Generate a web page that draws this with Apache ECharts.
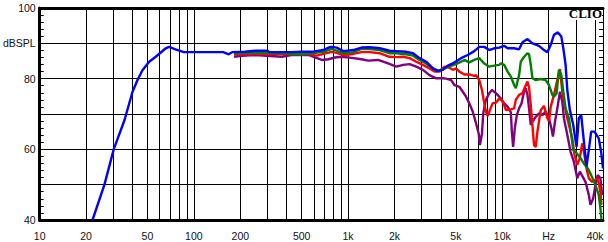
<!DOCTYPE html>
<html>
<head>
<meta charset="utf-8">
<script src="https://cdn.jsdelivr.net/npm/echarts@6/dist/echarts.min.js"></script>
<style>html,body{margin:0;padding:0;background:#fff;}#c{width:608px;height:242px;}</style>
</head>
<body>
<div id="c"></div>
<script>
// ---- data (frequency in Hz, level in dB SPL) ----
const blueFreq = [22,26.3,30.2,35.5,40,43.1,46.4,51.3,56.6,65.7,69,76,86,100,113,155,168,177,215,250,300,310,430,500,580,690,760,783,843,931,1080,1222,1383,1605,1853,2057,2386,2636,2907,3211,3548,3822,4116,4435,4777,5405,5970,6584,7092,7639,8228,8863,9549,10287,10820,11937,12856,13523,14567,15692,17310,18645,19612,20599,21634,22959,24152,24881,25743,26401,27442,28863,30317,31372,32510,33488,35172,36399,37714,39611,42230,43762,45000];
const blueDb   = [40,50,60,68.3,76.3,79.6,82.4,84.8,86.2,88.6,89,88.3,87.5,87.5,87.5,87.5,86.9,87.5,87.6,87.9,87.9,87.5,87.5,87.6,87.6,88.1,88.9,89,88.8,87.8,88.1,88.8,88.9,88.6,87.9,87.8,87.6,87.2,85.8,84.8,82.9,82.2,82.5,83.7,84.3,85.8,86.7,87.8,89,89,88.1,88.6,88.8,89.3,88.6,88.6,88.3,90.3,91.2,90,89.3,88.1,87.5,89.5,92.4,93.1,91.9,88.6,83.9,76.8,71.1,66.9,60.7,68.8,69.7,64.1,55.1,59.8,65,65,63.1,59.3,54.6];

const greenFreq = [182,250,400,430,500,580,692,783,931,1080,1222,1383,1605,1853,2057,2386,2636,2907,3211,3548,3822,4116,4435,4892,5405,5676,6114,6584,7092,7639,8228,8863,9549,9795,10287,10820,11364,11937,12242,12856,13185,13848,14567,14918,15300,15692,16482,17751,19121,20084,20599,21127,21634,22519,22754,23305,24152,24881,25743,27035,28017,28863,29871,32175,33790,35858,37714,40207,42230,43311,43954];
const greenDb   = [87.2,87.4,87.2,86.9,86.9,87.2,87.6,88.4,87.2,87.5,88.4,88.4,88.1,87.2,87.2,86.9,86.5,85.3,84.3,82.9,82.2,82.7,83.4,83.9,84.8,85.3,84.6,85.3,85.8,84.3,83.4,83.7,83.9,84.3,83.9,82,80.6,78.2,77.3,81,84.8,86.2,87.2,86.9,83.9,80.1,79.6,79.9,79.6,78.2,76.8,75.4,74.9,75.9,78,82.5,81,76.3,71.6,68.8,64.1,59.8,59.3,57.5,56,54.6,52.7,49.9,47.1,43.3,40.3];

const redFreq = [182,250,500,553,626,692,783,843,931,1080,1222,1383,1605,1853,2057,2272,2506,2769,3058,3373,3634,3914,4215,4542,4777,5017,5269,5676,6114,6584,6753,7092,7383,7639,7834,8035,8314,8654,9090,9549,9941,10287,10550,11364,11937,12242,12856,13523,13993,14567,14918,15300,16069,16482,16904,17751,18645,19612,20084,20599,21634,22754,23651,24511,25743,26401,28440,29428,30637,31842,32995,33790,35172,36399,38282,41610,43311,43954];
const redDb   = [86.9,87,87,87,86.5,87,87.6,87.3,86.7,87,87.5,87.5,87.2,86.2,86.1,86.2,85.8,84.8,83.9,82.9,82,82,83.4,83.1,82.5,82.9,82,81.2,81.2,80.8,81,79.6,76.8,73,70.7,69.4,71.1,73,73.2,74.4,73.8,72.6,71.1,71.3,71.6,74,75.4,75.9,77.5,79.2,77.5,72.6,61.2,60.7,65,71.1,72.3,68.8,68,72,75.4,79.6,82.7,76.3,71.1,68.8,63.1,58.4,55.6,57.5,61.7,59.5,54.6,51.8,50.8,51.8,48,44.3];

const purpleFreq = [182,205,250,372,430,553,611,675,745,822,908,1053,1222,1350,1567,1818,2057,2272,2506,2769,3058,3373,3727,4116,4323,4658,4892,5269,5543,5821,6114,6430,6753,7029,7167,7383,7526,7834,8228,8565,9090,9795,10287,10820,11364,11535,11761,12061,12426,12856,13323,13848,14203,14567,14918,15300,15692,16482,17310,18205,19121,20084,20813,21318,21960,22754,23651,24511,25105,26401,27728,29124,30637,31842,32995,34655,36399,37325,38853,40207,41610,43311,44420];
const purpleDb   = [86.2,86.5,86.7,86.2,86.7,86.7,86,85.3,85.5,86,86.2,85.9,85.5,85.1,85.3,84.3,83.4,83.9,84.1,83.4,82.5,81,80.1,80.1,80,79.6,78.2,77.7,76.3,74.9,73,70.7,67.4,64.5,61.2,64.5,70.2,74,75.9,76.8,75.9,74.4,73,72.1,70.5,65,60.7,66,69.7,71.6,73,76.3,77.3,75.4,71.6,66.9,67.8,69.2,70.2,69.7,70.7,68.8,66,63.6,67.8,71.6,76.3,73.5,68.8,64.1,59.3,56.5,51.8,53.7,52.5,50.8,47.1,44.3,46.1,49.9,52.7,51.8,47.1];

// axis grid / labels
const gridFreqs = [10,20,30,40,50,60,70,80,90,100,200,300,400,500,600,700,800,900,1000,2000,3000,4000,5000,6000,7000,8000,9000,10000,20000,30000,40000];
const tickFreqs = [10,20,50,100,200,500,1000,2000,5000,10000,20000,40000];
const tickLabels = ['10','20','50','100','200','500','1k','2k','5k','10k','Hz','40k'];
const yTickValues = [40,50,60,70,80,90,100];
const yTickLabels = ['40','','60','','80','dBSPL','100'];
const freqMin = 10, freqMax = 45000;

const lg = Math.log10;
const pairs = (f, d) => f.map((v, i) => [lg(v), d[i]]);
const labelFor = v => {
  for (let i = 0; i < tickFreqs.length; i++) if (Math.abs(lg(tickFreqs[i]) - v) < 1e-6) return tickLabels[i];
  return '';
};

const chart = echarts.init(document.getElementById('c'), null, {renderer: 'svg'});
const font = "'Liberation Sans', Arial, sans-serif";
chart.setOption({
  animation: false,
  backgroundColor: '#fff',
  grid: {left: 37, right: 5, top: 8, bottom: 22, containLabel: false},
  xAxis: [{
    type: 'value', min: lg(freqMin), max: lg(freqMax), position: 'bottom',
    axisLine: {show: true, onZero: false, lineStyle: {color: '#000', width: 3}},
    axisTick: {show: false, customValues: gridFreqs.map(lg)},
    axisLabel: {show: true, customValues: tickFreqs.map(lg), formatter: labelFor,
      color: '#111', fontSize: 10.5, fontFamily: font, margin: 10, showMinLabel: true, showMaxLabel: true},
    splitLine: {show: true, lineStyle: {color: '#000', width: 1}}
  }, {
    type: 'value', min: lg(freqMin), max: lg(freqMax), position: 'top',
    axisLine: {show: true, onZero: false, lineStyle: {color: '#000', width: 3}},
    axisTick: {show: false}, axisLabel: {show: false}, splitLine: {show: false}
  }],
  yAxis: [{
    type: 'value', min: 40, max: 100, interval: 10, position: 'left',
    axisLine: {show: true, lineStyle: {color: '#000', width: 3}},
    axisTick: {show: true, inside: true, length: 4, lineStyle: {color: '#000'}},
    minorTick: {show: true, splitNumber: 5, length: 4, lineStyle: {color: '#000'}},
    axisLabel: {
      color: '#111', fontSize: 10.5, fontFamily: font, margin: 4,
      formatter: v => { const i = yTickValues.indexOf(v); return i >= 0 ? yTickLabels[i] : ''; }
    },
    splitLine: {show: true, lineStyle: {color: '#000', width: 1}}
  }, {
    type: 'value', min: 40, max: 100, interval: 10, position: 'right',
    axisLine: {show: true, lineStyle: {color: '#000', width: 1}},
    axisTick: {show: true, inside: true, length: 4, lineStyle: {color: '#000'}},
    minorTick: {show: true, splitNumber: 5, length: 4, lineStyle: {color: '#000'}},
    axisLabel: {show: false}, splitLine: {show: false}
  }],
  graphic: [{
    type: 'rect', z: 100, silent: true,
    shape: {x: 566, y: 10, width: 36, height: 10},
    style: {fill: '#fff'}
  }, {
    type: 'text', z: 101, silent: true, x: 602, y: 6.5,
    style: {text: 'CLIO', font: "bold 13px 'Liberation Serif', serif", fill: '#000',
            textAlign: 'right', textVerticalAlign: 'top'}
  }],
  series: [
    {name: 'purple', type: 'line', data: pairs(purpleFreq, purpleDb), showSymbol: false, z: 2,
     lineStyle: {color: '#800080', width: 2.4}, itemStyle: {color: '#800080'}},
    {name: 'red', type: 'line', data: pairs(redFreq, redDb), showSymbol: false, z: 3,
     lineStyle: {color: '#ff0000', width: 2.4}, itemStyle: {color: '#ff0000'}},
    {name: 'green', type: 'line', data: pairs(greenFreq, greenDb), showSymbol: false, z: 4,
     lineStyle: {color: '#008000', width: 2.4}, itemStyle: {color: '#008000'}},
    {name: 'blue', type: 'line', data: pairs(blueFreq, blueDb), showSymbol: false, z: 5,
     lineStyle: {color: '#0000ff', width: 2.4}, itemStyle: {color: '#0000ff'}}
  ]
});
</script>
</body>
</html>
